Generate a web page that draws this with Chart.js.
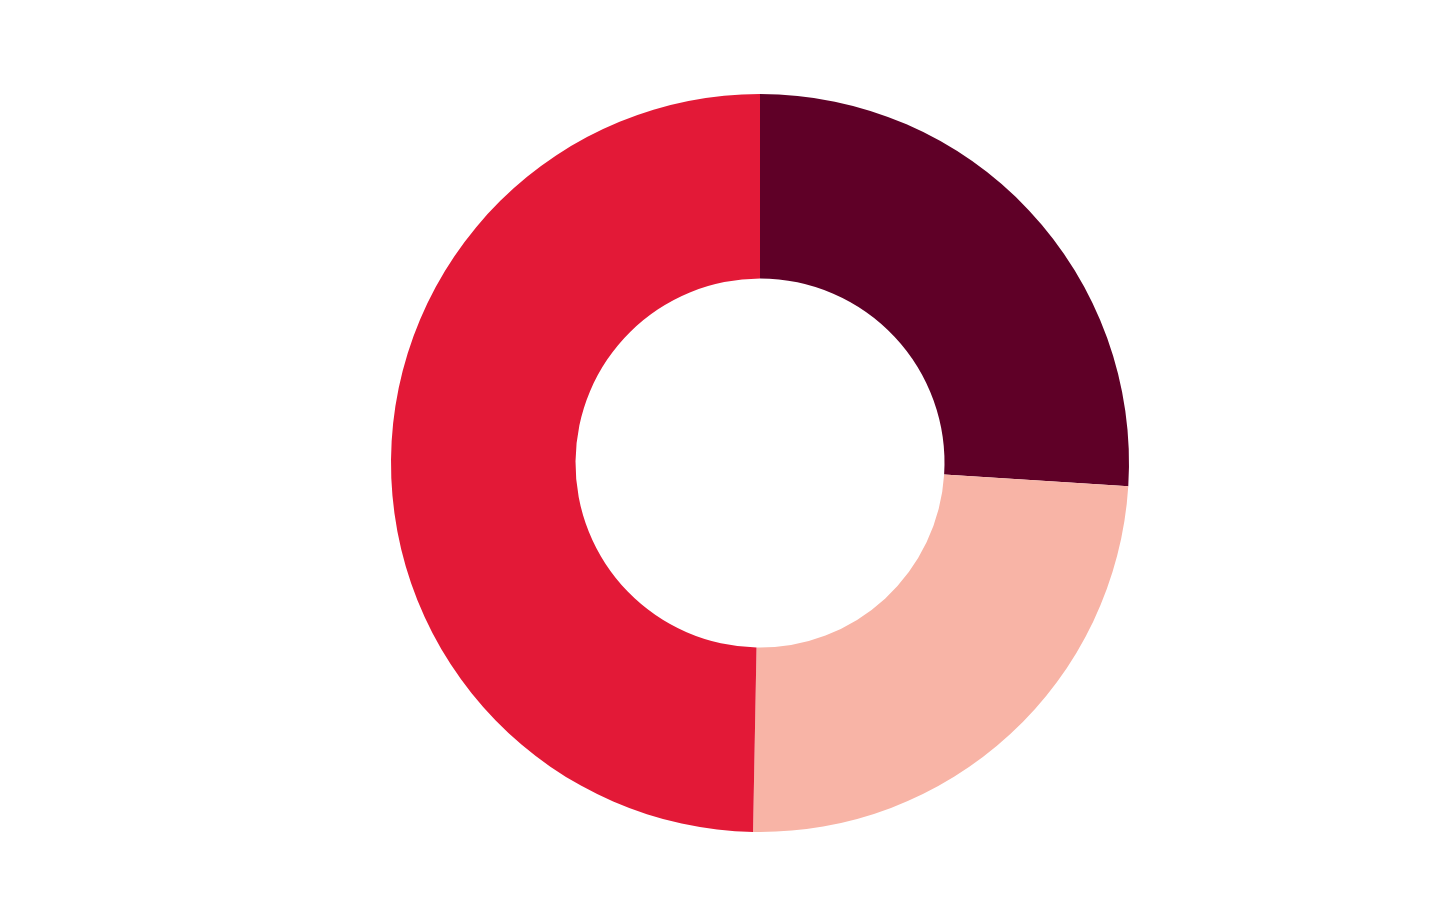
<!DOCTYPE html>
<html lang="en">
<head>
  <meta charset="UTF-8">
  <title>Doughnut</title>
  <script src="https://cdn.jsdelivr.net/npm/chart.js"></script>
  <style>
    html, body { margin: 0; padding: 0; background: #ffffff; }
    #wrap { width: 1450px; height: 900px; }
  </style>
</head>
<body>
  <div id="wrap"><canvas id="donut" width="1450" height="900"></canvas></div>
  <script>
    // slice order: clockwise from 12 o'clock
    const labels = ['A', 'B', 'C'];
    const values = [26.0, 24.3, 49.7];
    const colors = ['#5f0027', '#f8b4a6', '#e31937'];

    const ctx = document.getElementById('donut').getContext('2d');
    new Chart(ctx, {
      type: 'doughnut',
      data: {
        labels: labels,
        datasets: [{
          data: values,
          backgroundColor: colors,
          borderWidth: 0
        }]
      },
      options: {
        responsive: false,
        animation: false,
        cutout: '50%',
        layout: { padding: { top: 94, bottom: 68, left: 70, right: 0 } },
        plugins: {
          legend: { display: false },
          tooltip: { enabled: false }
        }
      }
    });
  </script>
</body>
</html>
